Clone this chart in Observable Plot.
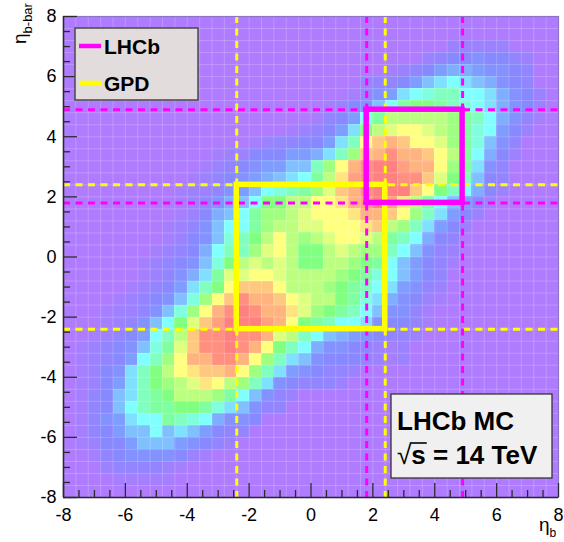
<!DOCTYPE html>
<html>
<head>
<meta charset="utf-8">
<script src="https://cdn.jsdelivr.net/npm/d3@7"></script>
<script src="https://cdn.jsdelivr.net/npm/@observablehq/plot@0.6"></script>
<style>
  html, body { margin: 0; padding: 0; background: #fff; }
  #chart svg { display: block; }
</style>
</head>
<body>
<div id="chart"></div>
<script>
// Pseudorapidity of the b quark vs the b-bar quark, 40 x 40 bins over [-8, 8].
const etaMin = -8, etaMax = 8, nBins = 40;

// Bin contents, one row per eta(b-bar) bin, top row first.
// rowFirstBin: index of the first filled eta(b) bin in the row;
// rowLevels: one character per bin, level in half steps (0-9, A=10 ... O=24).
const rowFirstBin = [
  0, 0, 31, 29, 26, 24, 23, 21, 20, 18,
  15, 12, 11, 10, 9, 9, 9, 8, 8, 7,
  6, 6, 5, 4, 3, 3, 2, 1, 1, 1,
  1, 1, 1, 1, 1, 1, 2, 3, 4, 0
];
const rowLevels = [
  "",
  "",
  "22222",
  "234454432",
  "123467765543",
  "2334689A987543",
  "12569ABCCAA97542",
  "12458ADEEDCBA97542",
  "1346ADGGGGGFDCA7531",
  "123469EGHIIHGFDBA642",
  "12334469CIKLKIIHFDB853",
  "1224446679CFKLNLLKIGDA742",
  "123456688CFILNOOMLLIFD953",
  "123456789ADGJMNOONNKHEC843",
  "1223568ABCDFHKLNOOOKIECA742",
  "123578AEEGGIIJLMOMJGDA8642",
  "12478ADFFGHIIIJLLKIFC9642",
  "12358AADFGGHHIIIJKGFC9642",
  "12458BCEGIGFGHIIHGDCA743",
  "12347ACCFHIGEEGHGFFCA8532",
  "123458BEGHGHGEEGGFEDA86431",
  "123579DHHIIHGGGGFEDBA8643",
  "123469CEIKKKIGGGFEDCA96532",
  "123458BFIKNLLKIHGGEDB975421",
  "122358BFILNONLLJHFEDCA85531",
  "12358AEHKMOOOMLIEDCAA954431",
  "12346ACGKNNONNLHGCA87654332",
  "123458BDHKNNONLIECA75543212",
  "12346ACFILLNNLIFC9854443212",
  "12459CEGIJKKLIFC9654332",
  "12469CEFGHJIGFC9543332",
  "13489CDEGGGFDA8532",
  "1348ACDDEEDB98533",
  "13569AADCBA7554",
  "134688A8986433",
  "1244688865432",
  "1345555421",
  "2333321",
  "11111",
  ""
];

// Acceptance cuts on both quarks
const gpdCut = [-2.4, 2.4];
const lhcbCut = [1.8, 4.9];

// Axis ticks
const majorTicks = [-8, -6, -4, -2, 0, 2, 4, 6, 8];
const minorTicks = [-7.5, -7, -6.5, -5.5, -5, -4.5, -3.5, -3, -2.5, -1.5, -1, -0.5,
                    0.5, 1, 1.5, 2.5, 3, 3.5, 4.5, 5, 5.5, 6.5, 7, 7.5];

// Colour palette (pastel rainbow)
const paletteStops = [0, 2, 3, 4, 5, 6, 7, 8, 9, 10, 11, 12];
const paletteColors = ["#b07cff", "#8888ff", "#7f9cff", "#80c0ff", "#80ffff", "#80ffc0",
                       "#80ff80", "#bcff80", "#ffff80", "#ffc880", "#ffa080", "#ff8080"];

// Legend and info text
const legendEntries = [{name: "LHCb", color: "#ff00ff"}, {name: "GPD", color: "#ffff00"}];
const infoTitle = "LHCb MC";
const infoEnergy = " = 14 TeV";

// ---- build the histogram cells ----
const binWidth = (etaMax - etaMin) / nBins;
const binEdges = d3.range(nBins + 1).map(i => etaMin + i * binWidth);
const cells = [];
rowLevels.forEach((codes, r) => {
  const j = nBins - 1 - r; // bin index from the bottom
  [...codes].forEach((c, k) => {
    const level = parseInt(c, 36) / 2;
    if (!(level > 0)) return;
    const i = rowFirstBin[r] + k;
    cells.push({
      x1: binEdges[i], x2: binEdges[i + 1],
      y1: binEdges[j], y2: binEdges[j + 1],
      level
    });
  });
});

// ---- layout ----
const W = 564, H = 542, mL = 63, mR = 6, mT = 16, mB = 45;
const unitPerPxX = (etaMax - etaMin) / (W - mL - mR);
const unitPerPxY = (etaMax - etaMin) / (H - mT - mB);
const tickColor = "#2a2a2a";

const chart = Plot.plot({
  width: W,
  height: H,
  marginLeft: mL,
  marginRight: mR,
  marginTop: mT,
  marginBottom: mB,
  x: {domain: [etaMin, etaMax], axis: null},
  y: {domain: [etaMin, etaMax], axis: null},
  color: {type: "linear", domain: paletteStops, range: paletteColors, clamp: true},
  style: {
    fontFamily: "'Liberation Sans', Arial, Helvetica, sans-serif",
    fontSize: "18px",
    color: "#000",
    background: "#fff",
    overflow: "visible"
  },
  marks: [
    Plot.frame({fill: paletteColors[0]}),
    Plot.rect(cells, {x1: "x1", x2: "x2", y1: "y1", y2: "y2", fill: "level", shapeRendering: "crispEdges"}),
    // faint bin seams
    Plot.ruleX(binEdges, {stroke: "#ffffff", strokeOpacity: 0.2, strokeWidth: 1}),
    Plot.ruleY(binEdges, {stroke: "#ffffff", strokeOpacity: 0.2, strokeWidth: 1}),
    // cut lines
    Plot.ruleX(gpdCut, {stroke: "#ffff00", strokeWidth: 3, strokeDasharray: "7,5.5"}),
    Plot.ruleY(gpdCut, {stroke: "#ffff00", strokeWidth: 3, strokeDasharray: "7,5.5"}),
    Plot.ruleX(lhcbCut, {stroke: "#ff00ff", strokeWidth: 3, strokeDasharray: "7,5.5"}),
    Plot.ruleY(lhcbCut, {stroke: "#ff00ff", strokeWidth: 3, strokeDasharray: "7,5.5"}),
    // acceptance boxes
    Plot.rect([gpdCut], {x1: d => d[0], x2: d => d[1], y1: d => d[0], y2: d => d[1],
      fill: "none", stroke: "#ffff00", strokeWidth: 5.5}),
    Plot.rect([lhcbCut], {x1: d => d[0], x2: d => d[1], y1: d => d[0], y2: d => d[1],
      fill: "none", stroke: "#ff00ff", strokeWidth: 5.5}),
    // frame and axes
    Plot.frame({stroke: "#8e74c6", strokeWidth: 1.2}),
    Plot.ruleX([etaMin], {stroke: tickColor, strokeWidth: 1.5}),
    Plot.ruleY([etaMin], {stroke: tickColor, strokeWidth: 1.5}),
    Plot.ruleX(minorTicks, {y1: etaMin, y2: etaMin + 7 * unitPerPxY, stroke: tickColor, strokeWidth: 1.3}),
    Plot.ruleX(majorTicks, {y1: etaMin, y2: etaMin + 14 * unitPerPxY, stroke: tickColor, strokeWidth: 1.3}),
    Plot.ruleY(minorTicks, {x1: etaMin, x2: etaMin + 7 * unitPerPxX, stroke: tickColor, strokeWidth: 1.3}),
    Plot.ruleY(majorTicks, {x1: etaMin, x2: etaMin + 14 * unitPerPxX, stroke: tickColor, strokeWidth: 1.3}),
    Plot.axisX(majorTicks, {tickSize: 0, tickPadding: 11, tickFormat: d => String(d), label: null, fontSize: 18}),
    Plot.axisY(majorTicks, {tickSize: 0, tickPadding: 7, tickFormat: d => String(d), label: null, fontSize: 18})
  ]
});

document.getElementById("chart").appendChild(chart);

// ---- annotations ----
const svg = d3.select(chart);
const font = "'Liberation Sans', Arial, Helvetica, sans-serif";

function addText(parent, x, y, size, weight) {
  return parent.append("text")
    .attr("x", x).attr("y", y)
    .attr("text-anchor", "start")
    .attr("font-family", font).attr("font-weight", weight).attr("font-size", size)
    .attr("fill", "#000");
}

// legend
const legend = svg.append("g");
legend.append("rect")
  .attr("x", 75).attr("y", 28).attr("width", 123).attr("height", 72)
  .attr("fill", "#e3dcdc").attr("stroke", "#4a4a4a").attr("stroke-width", 1.5);
legendEntries.forEach((e, k) => {
  const cy = 46 + k * 37;
  legend.append("line")
    .attr("x1", 79).attr("x2", 101).attr("y1", cy).attr("y2", cy)
    .attr("stroke", e.color).attr("stroke-width", 4.5);
  addText(legend, 104, cy + 8, 21, "bold").text(e.name);
});

// info box
const info = svg.append("g");
info.append("rect")
  .attr("x", 391).attr("y", 394).attr("width", 161).attr("height", 84)
  .attr("fill", "#f0f0f0").attr("stroke", "#333").attr("stroke-width", 1.3);
addText(info, 397, 430, 26, "bold").text(infoTitle);
const energy = addText(info, 397, 464, 26, "bold");
energy.append("tspan").attr("font-weight", "normal").text("\u221A");
energy.append("tspan").text("s");
energy.append("tspan").text(infoEnergy);
{
  const node = energy.node();
  const r = node.getExtentOfChar(0);
  const s = node.getExtentOfChar(1);
  const yBar = r.y + 3;
  info.append("line")
    .attr("x1", r.x + r.width - 1.5).attr("x2", s.x + s.width + 1)
    .attr("y1", yBar).attr("y2", yBar)
    .attr("stroke", "#000").attr("stroke-width", 1.6);
}

// axis titles
const xTitle = addText(svg, 539, 531, 19, "normal");
xTitle.append("tspan").text("\u03B7");
xTitle.append("tspan").attr("font-size", 12).attr("dy", 6).text("b");

const yTitle = svg.append("text")
  .attr("transform", "translate(26,44) rotate(-90)")
  .attr("text-anchor", "start")
  .attr("font-family", font).attr("font-size", 19).attr("fill", "#000");
yTitle.append("tspan").text("\u03B7");
yTitle.append("tspan").attr("font-size", 13).attr("dy", 6).text("b-bar");
</script>
</body>
</html>
